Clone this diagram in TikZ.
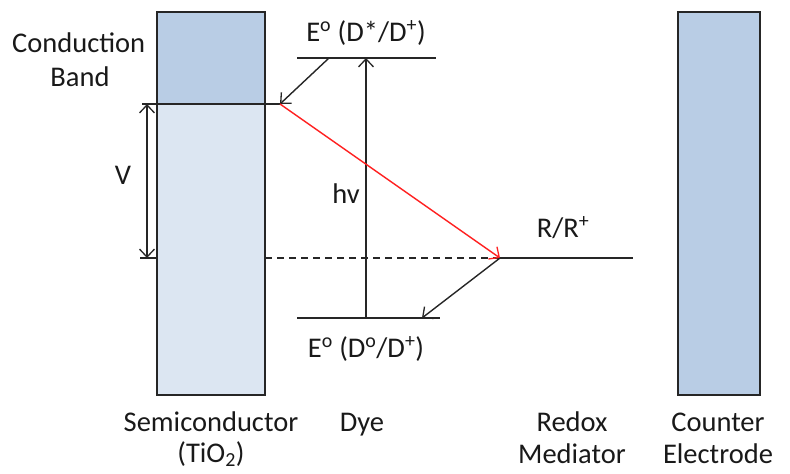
\documentclass[tikz,border=0pt]{standalone}
\usepackage{fontspec}
\setmainfont{Carlito}
\usetikzlibrary{arrows.meta}
\definecolor{cbdark}{HTML}{B9CDE5}
\definecolor{cblight}{HTML}{DCE6F2}
\definecolor{redarr}{HTML}{FF2020}
\begin{document}
\begin{tikzpicture}[x=1pt,y=-1pt,
  lbl/.style={font=\fontsize{28.5}{33}\selectfont, inner sep=0pt, text=black!90},
  ln/.style={line width=1.4pt, black!85},
  tip/.style={-{Straight Barb[length=8pt,width=15pt,line width=1.3pt]}},
  box/.style={draw=black!85, line width=1.4pt}]
\useasboundingbox (0,0) rectangle (790,474);
% semiconductor
\fill[cblight] (157,104) rectangle (265,395);
\fill[cbdark] (157,12) rectangle (265,104);
\draw[box] (157,12) rectangle (265,395);
% counter electrode
\draw[box, fill=cbdark] (678,12) rectangle (760,395);
% coordinates
\coordinate (cbL) at (142,104);
\coordinate (cbR) at (280,104);
\coordinate (dsL) at (297,58);
\coordinate (dsR) at (436,58);
\coordinate (dsA) at (329,58);
\coordinate (hvT) at (366,58);
\coordinate (hvB) at (366,318);
\coordinate (dgL) at (297,318);
\coordinate (dgR) at (440,318);
\coordinate (dgA) at (422,318);
\coordinate (rxL) at (265,258);
\coordinate (rxM) at (500,258);
\coordinate (rxR) at (633,258);
\coordinate (vT) at (147,104);
\coordinate (vB) at (147,258);
\coordinate (vtL) at (140,258);
\coordinate (vtR) at (157,258);
% levels
\draw[ln] (cbL) -- (cbR);
\draw[ln] (dsL) -- (dsR);
\draw[ln] (dgL) -- (dgR);
\draw[ln, dashed, dash pattern=on 7pt off 5pt] (rxL) -- (rxM);
\draw[ln] (rxM) -- (rxR);
\draw[ln] (vtL) -- (vtR);
% arrows
\draw[ln, tip] (dsA) -- (cbR);
\draw[ln, tip] (hvB) -- (hvT);
\draw[ln, {Straight Barb[length=8pt,width=15pt,line width=1.3pt]}-{Straight Barb[length=8pt,width=15pt,line width=1.3pt]}] (vT) -- (vB);
\draw[line width=1.4pt, redarr, -{Straight Barb[length=8pt,width=15pt,line width=1.3pt]}] (cbR) -- (rxM);
\draw[ln, tip] (rxM) -- (dgA);
% labels
\node[lbl, anchor=base west] (cond) at (12,52) {Conduction};
\node[lbl, anchor=base] (band) at (80,86) {Band};
\node[lbl, anchor=base] (vl) at (123,184) {V};
\node[lbl, anchor=base] (hv) at (346,203) {hv};
\node[lbl, anchor=base] (es) at (366,41) {E\textsuperscript{o} (D*/D\textsuperscript{+})};
\node[lbl, anchor=base] (eg) at (366,357) {E\textsuperscript{o} (D\textsuperscript{o}/D\textsuperscript{+})};
\node[lbl, anchor=base] (rr) at (563,237) {R/R\textsuperscript{+}};
\node[lbl, anchor=base] (sc) at (211,431) {Semiconductor};
\node[lbl, anchor=base] (ti) at (211,462) {(TiO\textsubscript{2})};
\node[lbl, anchor=base] (dye) at (362,431) {Dye};
\node[lbl, anchor=base] (rd) at (572,431) {Redox};
\node[lbl, anchor=base] (md) at (572,463) {Mediator};
\node[lbl, anchor=base] (co) at (718,431) {Counter};
\node[lbl, anchor=base] (el) at (718,463) {Electrode};
\end{tikzpicture}
\end{document}
